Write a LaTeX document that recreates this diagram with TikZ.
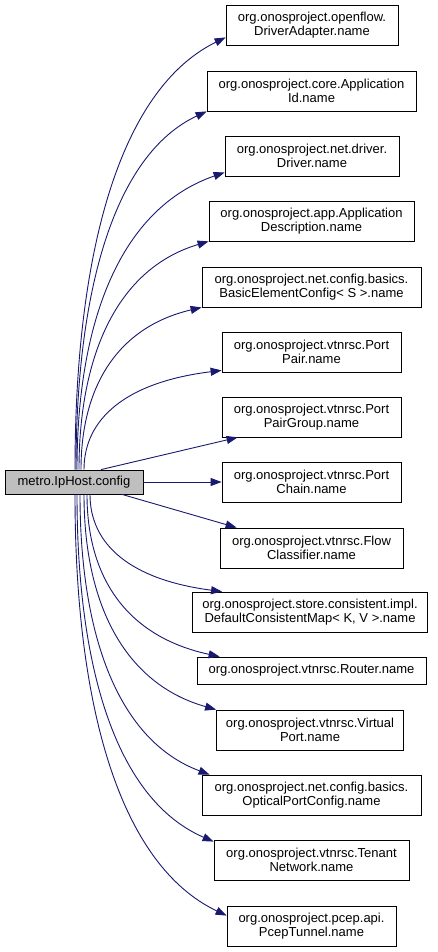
\documentclass[tikz,border=0pt]{standalone}
\usepackage{fontspec}
\setmainfont{Liberation Sans}
\usetikzlibrary{arrows.meta}
\definecolor{edgeblue}{RGB}{25,25,112}
\definecolor{rootgray}{RGB}{191,191,191}
\tikzset{
  fn/.style={draw=black, line width=0.8pt, fill=white, align=center, inner sep=0pt,
    minimum height=40pt, font=\fontsize{13}{14}\selectfont},
  rootfn/.style={fn, fill=rootgray, minimum height=24pt},
  call/.style={edgeblue, line width=0.9pt, -{Triangle[length=11pt,width=8pt]}}
}

\begin{document}
\begin{tikzpicture}[x=1pt, y=-1pt]
\useasboundingbox[fill=white] (0,0) rectangle (437,952);

\node[rootfn, minimum width=138pt] (cfg) at (74,482) {metro.IpHost.config};

\node[fn, minimum width=172pt] (drvadapter) at (312,25) {org.onosproject.openflow.\\DriverAdapter.name};
\node[fn, minimum width=209pt] (appid) at (311.5,91) {org.onosproject.core.Application\\Id.name};
\node[fn, minimum width=174pt] (driver) at (312,156) {org.onosproject.net.driver.\\Driver.name};
\node[fn, minimum width=205pt] (appdesc) at (311.5,221) {org.onosproject.app.Application\\Description.name};
\node[fn, minimum width=219pt] (basicelem) at (311.5,287) {org.onosproject.net.config.basics.\\BasicElementConfig< S >.name};
\node[fn, minimum width=179pt] (portpair) at (311.5,352) {org.onosproject.vtnrsc.Port\\Pair.name};
\node[fn, minimum width=179pt] (pairgroup) at (311.5,417) {org.onosproject.vtnrsc.Port\\PairGroup.name};
\node[fn, minimum width=179pt] (portchain) at (311.5,482) {org.onosproject.vtnrsc.Port\\Chain.name};
\node[fn, minimum width=183pt] (flowcls) at (311.5,548) {org.onosproject.vtnrsc.Flow\\Classifier.name};
\node[fn, minimum width=235pt] (consmap) at (310,612) {org.onosproject.store.consistent.impl.\\DefaultConsistentMap< K, V >.name};
\node[fn, minimum width=229pt, minimum height=27pt] (router) at (311.5,670.5) {org.onosproject.vtnrsc.Router.name};
\node[fn, minimum width=187pt] (vport) at (310,730) {org.onosproject.vtnrsc.Virtual\\Port.name};
\node[fn, minimum width=219pt] (optport) at (311.5,795) {org.onosproject.net.config.basics.\\OpticalPortConfig.name};
\node[fn, minimum width=195pt] (tenantnet) at (311.5,860) {org.onosproject.vtnrsc.Tenant\\Network.name};
\node[fn, minimum width=169pt] (pceptun) at (311.5,926) {org.onosproject.pcep.api.\\PcepTunnel.name};

% calls going up
\draw[call] ([xshift=1pt]cfg.north) .. controls +(0,-217) and +(-106,52) .. ([yshift=8pt]drvadapter.south west);
\draw[call] ([xshift=2pt]cfg.north) .. controls +(0,-180) and +(-92,43) .. (appid.south west);
\draw[call] ([xshift=3pt]cfg.north) .. controls +(0,-149) and +(-104,36) .. ([yshift=4pt]driver.south west);
\draw[call] ([xshift=5pt]cfg.north) .. controls +(0,-115) and +(-91,27) .. (appdesc.south west);
\draw[call] ([xshift=7pt]cfg.north) .. controls +(0,-82) and +(-85,20) .. (basicelem.south west);
\draw[call] ([xshift=10pt]cfg.north) .. controls +(0,-50) and +(-97,12) .. ([yshift=2pt]portpair.south west);
\draw[call] ([xshift=27pt]cfg.north) -- ([xshift=16pt]pairgroup.south west);
% straight across
\draw[call] (cfg.east) -- (portchain.west);
% calls going down
\draw[call] ([xshift=48pt]cfg.south) -- ([xshift=17pt]flowcls.north west);
\draw[call] ([xshift=16pt]cfg.south) .. controls +(0,50) and +(-92,-12) .. ([xshift=30pt]consmap.north west);
\draw[call] ([xshift=13pt]cfg.south) .. controls +(0,83) and +(-93,-20) .. ([xshift=23pt]router.north west);
\draw[call] ([xshift=10pt]cfg.south) .. controls +(0,109) and +(-92,-26) .. (vport.north west);
\draw[call] ([xshift=6pt]cfg.south) .. controls +(0,142) and +(-91,-34) .. ([xshift=8pt]optport.north west);
\draw[call] ([xshift=3pt]cfg.south) .. controls +(0,175) and +(-97,-42) .. ([yshift=-2pt]tenantnet.north west);
\draw[call] ([xshift=1pt]cfg.south) .. controls +(0,212) and +(-107,-51) .. ([yshift=-10pt]pceptun.north west);
\end{tikzpicture}
\end{document}
